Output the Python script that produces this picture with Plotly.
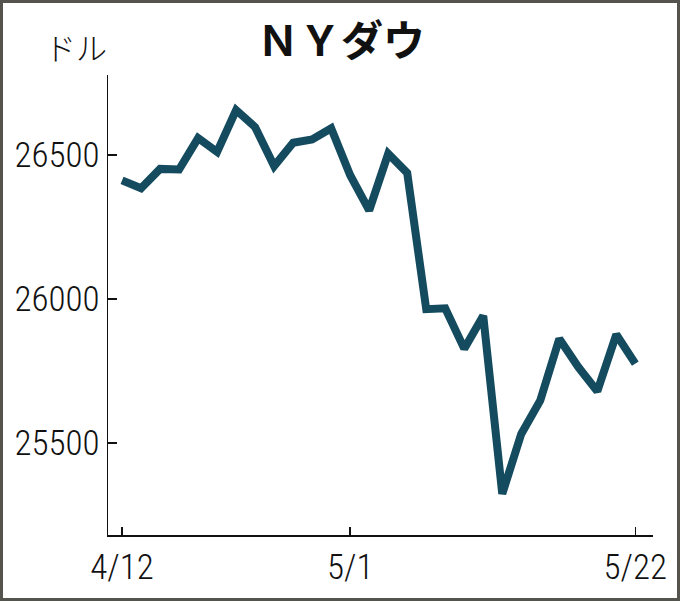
import plotly.graph_objects as go

dates = ["4/12", "4/15", "4/16", "4/17", "4/18", "4/22", "4/23", "4/24", "4/25", "4/26",
         "4/29", "4/30", "5/1", "5/2", "5/3", "5/6", "5/7", "5/8", "5/9", "5/10",
         "5/13", "5/14", "5/15", "5/16", "5/17", "5/20", "5/21", "5/22"]
dow = [26412, 26385, 26452, 26450, 26559, 26511, 26656, 26597, 26462, 26543,
       26554, 26593, 26430, 26308, 26505, 26438, 25965, 25968, 25828, 25942,
       25324, 25532, 25648, 25862, 25764, 25680, 25877, 25776]
x_ticks = ["4/12", "5/1", "5/22"]
y_ticks = [25500, 26000, 26500]
y_labels = ["25500", "26000", "26500"]

W, H = 680, 601
L, R, T, B = 108, 27, 75, 66
pw, ph = W - L - R, H - T - B

num_font = dict(family="Roboto Condensed, DejaVu Sans Condensed, sans-serif", size=35,
                color="#111", weight=300)

fig = go.Figure(go.Scatter(
    x=dates, y=dow, mode="lines",
    line=dict(color="#144b5f", width=8, shape="linear"),
    hoverinfo="skip",
))

fig.update_layout(
    width=W, height=H,
    margin=dict(l=L, r=R, t=T, b=B, pad=0),
    paper_bgcolor="white", plot_bgcolor="white",
    showlegend=False,
    xaxis=dict(type="category", range=[-0.74, 27.93], tickmode="array", tickvals=x_ticks,
               ticktext=x_ticks, showgrid=False, zeroline=False, showline=True, automargin=False,
               linecolor="#111", linewidth=1.5, ticks="inside", ticklen=8,
               tickcolor="#111", tickwidth=1.5, tickfont=num_font),
    yaxis=dict(range=[25181, 26778], tickmode="array", tickvals=y_ticks, ticktext=y_labels,
               showgrid=False, zeroline=False, showline=True, automargin=False,
               linecolor="#111", linewidth=1.5, ticks="inside", ticklen=9,
               tickcolor="#111", tickwidth=1.5, tickfont=num_font),
)


def px2paper(px, py):
    return (px - L) / pw, (H - B - py) / ph


tx, ty = px2paper(341, 38)
fig.add_annotation(text="<b>ＮＹダウ</b>", x=tx, y=ty, xref="paper", yref="paper", showarrow=False,
                   font=dict(family="Noto Sans CJK JP", size=42, color="#111"),
                   xanchor="center", yanchor="middle")
ux, uy = px2paper(109, 47)
fig.add_annotation(text="ドル", x=ux, y=uy, xref="paper", yref="paper", showarrow=False,
                   font=dict(family="Noto Sans CJK JP", size=31, color="#111", weight=300),
                   xanchor="right", yanchor="middle")

x0, y0 = px2paper(1.5, H - 1.5)
x1, y1 = px2paper(W - 1.5, 1.5)
fig.add_shape(type="rect", xref="paper", yref="paper", x0=x0, x1=x1, y0=y0, y1=y1,
              line=dict(color="#55534e", width=3), fillcolor="rgba(0,0,0,0)", layer="above")

fig.write_html("out.html", config={"displayModeBar": False, "staticPlot": True},
               post_script="document.body.style.margin='0';")
